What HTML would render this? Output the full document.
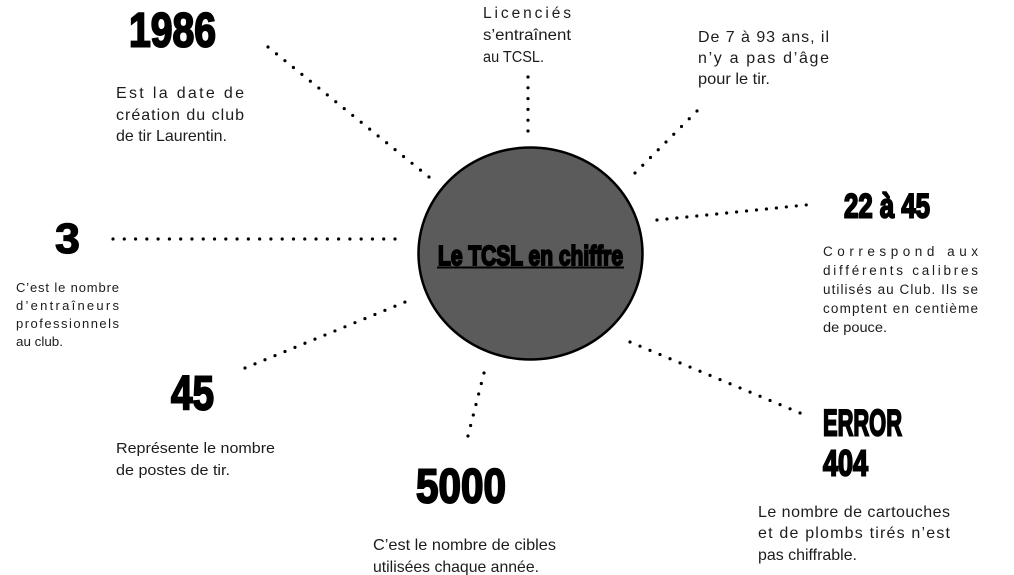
<!DOCTYPE html>
<html>
<head>
<meta charset="utf-8">
<style>
html,body{margin:0;padding:0;background:#fff;}
svg{display:block;}
.num{font-family:"Liberation Sans Narrow","Liberation Sans",sans-serif;font-weight:bold;fill:#000;stroke:#000;stroke-width:2;stroke-linejoin:miter;}
.t{font-family:"Liberation Sans","DejaVu Sans",sans-serif;fill:#1c1c1c;}
.d{stroke:#000;stroke-linecap:round;stroke-width:3.2;fill:none;}
</style>
</head>
<body>
<svg width="1014" height="575" viewBox="0 0 1014 575" xmlns="http://www.w3.org/2000/svg">
<rect width="1014" height="575" fill="#fff"/>

<!-- dotted connectors -->
<line class="d" x1="268" y1="47" x2="429.6" y2="177.5" stroke-dasharray="0 10.89"/>
<line class="d" x1="528" y1="77" x2="528" y2="131.6" stroke-dasharray="0 10.8"/>
<line class="d" x1="697" y1="111" x2="634.6" y2="173.4" stroke-dasharray="0 10.96"/>
<line class="d" x1="657" y1="220" x2="807.5" y2="204.8" stroke-dasharray="0 10.0"/>
<line class="d" x1="113" y1="239" x2="395.6" y2="239" stroke-dasharray="0 11.28"/>
<line class="d" x1="245" y1="368" x2="405.6" y2="301.8" stroke-dasharray="0 10.81"/>
<line class="d" x1="484" y1="373" x2="467.8" y2="436.6" stroke-dasharray="0 10.83"/>
<line class="d" x1="630" y1="342" x2="800.6" y2="413.2" stroke-dasharray="0 10.84"/>

<!-- central circle -->
<ellipse cx="530.5" cy="253.5" rx="112" ry="106" fill="#5b5b5b" stroke="#000" stroke-width="2.5"/>
<text class="num" x="438" y="265" font-size="28" textLength="185" lengthAdjust="spacingAndGlyphs" stroke-width="1.3">Le TCSL en chiffre</text>
<rect x="437" y="266.5" width="187" height="2" fill="#000"/>

<!-- 1986 -->
<text class="num" x="129" y="46.5" font-size="48" textLength="87" lengthAdjust="spacingAndGlyphs">1986</text>
<text class="t" font-size="16">
<tspan x="116" y="98" textLength="128" lengthAdjust="spacing">Est la date de</tspan>
<tspan x="116" y="120" textLength="128" lengthAdjust="spacing">création du club</tspan>
<tspan x="116" y="141" textLength="111" lengthAdjust="spacingAndGlyphs">de tir Laurentin.</tspan>
</text>

<!-- Licenciés -->
<text class="t" font-size="15.5">
<tspan x="483" y="18" textLength="88" lengthAdjust="spacing">Licenciés</tspan>
<tspan x="483" y="40" textLength="88" lengthAdjust="spacingAndGlyphs">s’entraînent</tspan>
<tspan x="483" y="62" textLength="61" lengthAdjust="spacingAndGlyphs">au TCSL.</tspan>
</text>

<!-- De 7 à 93 -->
<text class="t" font-size="16">
<tspan x="698" y="42" textLength="131" lengthAdjust="spacing">De 7 à 93 ans, il</tspan>
<tspan x="698" y="63" textLength="131" lengthAdjust="spacing">n’y a pas d’âge</tspan>
<tspan x="698" y="84" textLength="72" lengthAdjust="spacingAndGlyphs">pour le tir.</tspan>
</text>

<!-- 22 à 45 -->
<text class="num" x="844" y="217.5" font-size="34" textLength="86" lengthAdjust="spacingAndGlyphs">22 à 45</text>
<text class="t" font-size="13.5">
<tspan x="823" y="256" textLength="155" lengthAdjust="spacing">Correspond aux</tspan>
<tspan x="823" y="275" textLength="155" lengthAdjust="spacing">différents calibres</tspan>
<tspan x="823" y="294" textLength="155" lengthAdjust="spacing">utilisés au Club. Ils se</tspan>
<tspan x="823" y="313" textLength="155" lengthAdjust="spacing">comptent en centième</tspan>
<tspan x="823" y="332" textLength="64" lengthAdjust="spacingAndGlyphs">de pouce.</tspan>
</text>

<!-- 3 -->
<text x="55" y="253" font-family="Liberation Sans, sans-serif" font-weight="bold" font-size="43" fill="#000" stroke="#000" stroke-width="1.2" textLength="25" lengthAdjust="spacingAndGlyphs">3</text>
<text class="t" font-size="13">
<tspan x="16" y="292" textLength="103" lengthAdjust="spacing">C’est le nombre</tspan>
<tspan x="16" y="310" textLength="103" lengthAdjust="spacing">d’entraîneurs</tspan>
<tspan x="16" y="328" textLength="103" lengthAdjust="spacing">professionnels</tspan>
<tspan x="16" y="346" textLength="47" lengthAdjust="spacingAndGlyphs">au club.</tspan>
</text>

<!-- 45 -->
<text class="num" x="171" y="409.5" font-size="48" textLength="43" lengthAdjust="spacingAndGlyphs">45</text>
<text class="t" font-size="15">
<tspan x="116" y="453" textLength="159" lengthAdjust="spacingAndGlyphs">Représente le nombre</tspan>
<tspan x="116" y="475" textLength="114" lengthAdjust="spacingAndGlyphs">de postes de tir.</tspan>
</text>

<!-- 5000 -->
<text class="num" x="416" y="502.5" font-size="48" textLength="90" lengthAdjust="spacingAndGlyphs">5000</text>
<text class="t" font-size="16">
<tspan x="373" y="550" textLength="183" lengthAdjust="spacingAndGlyphs">C’est le nombre de cibles</tspan>
<tspan x="373" y="572" textLength="166" lengthAdjust="spacingAndGlyphs">utilisées chaque année.</tspan>
</text>

<!-- ERROR 404 -->
<text class="num" x="823" y="435.5" font-size="37" textLength="79" lengthAdjust="spacingAndGlyphs">ERROR</text>
<text class="num" x="823" y="475.5" font-size="36" textLength="45" lengthAdjust="spacingAndGlyphs">404</text>
<text class="t" font-size="16">
<tspan x="758" y="517" textLength="192" lengthAdjust="spacing">Le nombre de cartouches</tspan>
<tspan x="758" y="538" textLength="192" lengthAdjust="spacing">et de plombs tirés n’est</tspan>
<tspan x="758" y="560" textLength="99" lengthAdjust="spacingAndGlyphs">pas chiffrable.</tspan>
</text>
</svg>
</body>
</html>
